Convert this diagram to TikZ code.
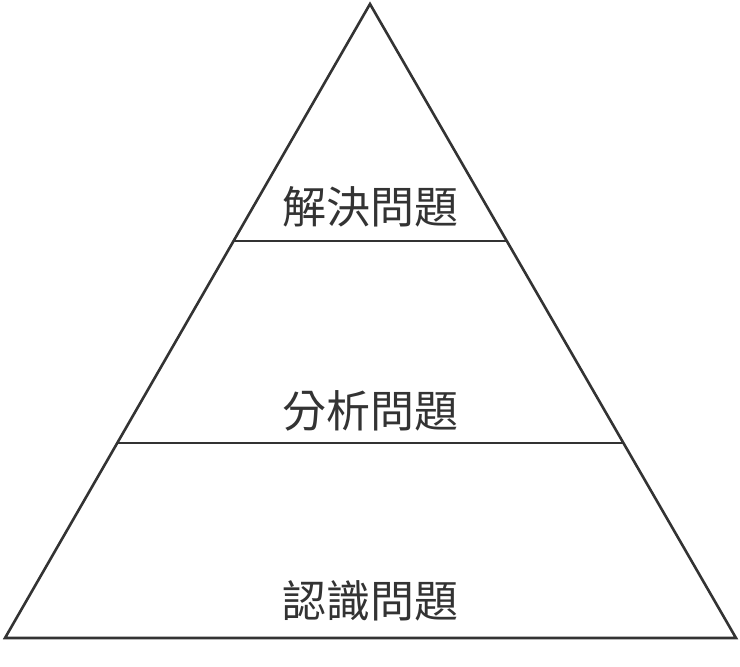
\documentclass[tikz,border=0pt]{standalone}
\usepackage{fontspec}
\newfontfamily\cjk{Noto Sans CJK TC}
\definecolor{ink}{HTML}{333333}
\begin{document}
\begin{tikzpicture}[x=1pt,y=-1pt,line width=2.6pt,
  lbl/.style={font=\cjk\fontsize{44}{48}\selectfont,text=ink,inner sep=0pt}]
\useasboundingbox (0,0) rectangle (740,667);
\coordinate (top) at (370,4);
\coordinate (bl) at (5,638);
\coordinate (br) at (736,638);
\draw[ink,line join=miter] (top) -- (br) -- (bl) -- cycle;
\draw[ink] (233,241) coordinate (l1) -- (507,241) coordinate (r1);
\draw[ink] (117,443) coordinate (l2) -- (623,443) coordinate (r2);
\node[lbl] (a) at (370,207) {解決問題};
\node[lbl] (b) at (370,411) {分析問題};
\node[lbl] (c) at (370,601) {認識問題};
\end{tikzpicture}
\end{document}
